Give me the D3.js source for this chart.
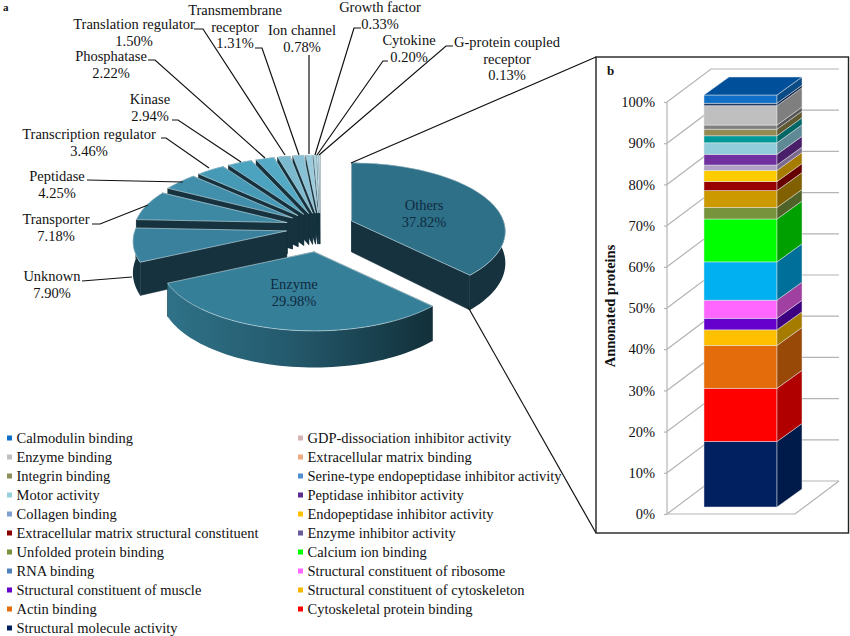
<!DOCTYPE html>
<html>
<head>
<meta charset="utf-8">
<script src="https://cdn.jsdelivr.net/npm/d3@7"></script>
<style>
  body { margin: 0; background: #fff; }
  text { font-family: "Liberation Serif", serif; fill: #111; }
</style>
</head>
<body>
<script>
const width = 850,
  height = 636;

// panel a: pie
const pieNames = ["Others", "Enzyme", "Unknown", "Transporter", "Peptidase", "Transcription regulator", "Kinase", "Phosphatase", "Translation regulator", "Transmembrane receptor", "Ion channel", "Growth factor", "Cytokine", "G-protein coupled receptor"];
const pieValues = [37.82, 29.98, 7.9, 7.18, 4.25, 3.46, 2.94, 2.22, 1.5, 1.31, 0.78, 0.33, 0.2, 0.13];
const pieColors = ["#2e7088", "#367f99", "#39819c", "#3d88a3", "#418fab", "#469ab6", "#4ba3bf", "#54a9c4", "#7bb9cf", "#88c0d5", "#9accdd", "#a8d4e2", "#b9dde8", "#cfe6ee"];

// panel b: stacked bar, bottom to top
const barNames = ["Structural molecule activity", "Cytoskeletal protein binding", "Actin binding", "Structural constituent of cytoskeleton", "Structural constituent of muscle", "Structural constituent of ribosome", "RNA binding", "Calcium ion binding", "Unfolded protein binding", "Enzyme inhibitor activity", "Extracellular matrix structural constituent", "Endopeptidase inhibitor activity", "Collagen binding", "Peptidase inhibitor activity", "Motor activity", "Serine-type endopeptidase inhibitor activity", "Integrin binding", "Extracellular matrix binding", "Enzyme binding", "GDP-dissociation inhibitor activity", "Calmodulin binding"];
const barValues = [15.9, 12.9, 10.4, 3.8, 2.8, 4.4, 9.3, 10.4, 2.8, 4.1, 2.2, 2.7, 1.3, 2.6, 2.8, 1.7, 1.6, 1.0, 4.7, 0.6, 2.0];
const barFront = ["#002060", "#ff0000", "#e46c0a", "#ffc000", "#6600cc", "#ff66ff", "#00b0f0", "#00ff00", "#77933c", "#cc9900", "#990000", "#ffcc00", "#b2a1c7", "#7030a0", "#92cddc", "#009999", "#948a54", "#7f7f7f", "#bfbfbf", "#1f3864", "#0f6fc6"];
const barSide = ["#001a4a", "#b00000", "#984807", "#a57c00", "#3d0080", "#a040a0", "#006f9a", "#00a000", "#4f6228", "#806000", "#660000", "#a67c00", "#7a6a90", "#4a1f6a", "#5f8a95", "#006666", "#5f5830", "#555555", "#7f7f7f", "#10254a", "#0a4a85"];
const ticks = [0, 10, 20, 30, 40, 50, 60, 70, 80, 90, 100];

const legendLeft = ["Calmodulin binding", "Enzyme binding", "Integrin binding", "Motor activity", "Collagen binding", "Extracellular matrix structural constituent", "Unfolded protein binding", "RNA binding", "Structural constituent of muscle", "Actin binding", "Structural molecule activity"];
const legendLeftColors = ["#0f6fc6", "#c0c0c0", "#8e8e5a", "#96d0dc", "#7f9fcf", "#8b0000", "#77933c", "#4f81bd", "#6600cc", "#e46c0a", "#002060"];
const legendRight = ["GDP-dissociation inhibitor activity", "Extracellular matrix binding", "Serine-type endopeptidase inhibitor activity", "Peptidase inhibitor activity", "Endopeptidase inhibitor activity", "Enzyme inhibitor activity", "Calcium ion binding", "Structural constituent of ribosome", "Structural constituent of cytoskeleton", "Cytoskeletal protein binding"];
const legendRightColors = ["#d6b4b4", "#f0a880", "#4f8fd0", "#5b2c91", "#ffc000", "#6a5a9a", "#00ff00", "#ff66ff", "#f5b800", "#ff0000"];

const svg = d3.select("body").append("svg")
  .attr("width", width)
  .attr("height", height);

const defs = svg.append("defs");

const wallGrad = defs.append("linearGradient").attr("id", "enzymeWall");
wallGrad.append("stop").attr("offset", "0%").attr("stop-color", "#2f7288");
wallGrad.append("stop").attr("offset", "45%").attr("stop-color", "#245a6d");
wallGrad.append("stop").attr("offset", "100%").attr("stop-color", "#12303a");

// pie in a tilted plane with a little perspective
const cx = 320, cy = 227, R = 152, RA = 67, persp = 0.153, depth = 31;
const explodeX = 34, explodeY = 18, explodePersp = 0.29;

const pie = d3.pie().sort(null).value(d => d);
const slices = pie(pieValues).map((d, i) => {
  const mid = (d.startAngle + d.endAngle) / 2;
  const v = -Math.cos(mid);
  return {
    ...d,
    name: pieNames[i],
    color: pieColors[i],
    ax: cx + explodeX * Math.sin(mid),
    ay: cy + explodeY * v / (1 - explodePersp * v)
  };
});

function proj(s, a, r, h) {
  const v = -r * Math.cos(a);
  const f = 1 / (1 - persp * v);
  return [s.ax + R * r * Math.sin(a) * f, s.ay + RA * v * f + h * f];
}

function arcPts(s, h) {
  const n = Math.max(2, Math.ceil((s.endAngle - s.startAngle) * 30));
  return d3.range(n + 1).map(i => proj(s, s.startAngle + (s.endAngle - s.startAngle) * i / n, 1, h));
}

const line = d3.line();
const closed = pts => line(pts) + "Z";

const pieG = svg.append("g");
// back to front: small slices first, the big two last
const drawOrder = [13, 12, 11, 10, 9, 8, 7, 6, 5, 4, 3, 2, 0, 1];
drawOrder.forEach(i => {
  const s = slices[i];
  const wall = "#15323e";
  const g = pieG.append("g");
  [s.startAngle, s.endAngle].forEach(a => {
    g.append("path")
      .attr("d", closed([proj(s, a, 0, 0), proj(s, a, 1, 0), proj(s, a, 1, depth), proj(s, a, 0, depth)]))
      .attr("fill", wall)
      .attr("stroke", wall)
      .attr("stroke-width", 0.5);
  });
  g.append("path")
    .attr("d", closed(arcPts(s, 0).concat(arcPts(s, depth).reverse())))
    .attr("fill", i === 1 ? "url(#enzymeWall)" : wall);
  g.append("path")
    .attr("d", closed([proj(s, 0, 0, 0)].concat(arcPts(s, 0))))
    .attr("fill", s.color)
    .attr("stroke", "#cfe3ea")
    .attr("stroke-width", 0.6);
});

// leader lines
const leaders = [
  [[194, 29], [203, 29], [285, 155]],
  [[255, 48], [262, 48], [299, 155]],
  [[309, 55], [309, 154]],
  [[361, 28], [354, 28], [315, 155]],
  [[388, 61], [383, 61], [317, 155]],
  [[453, 46], [446, 46], [319, 155]],
  [[148, 60], [155, 60], [265, 158]],
  [[172, 120], [178, 120], [241, 162]],
  [[161, 138], [166, 138], [209, 168]],
  [[87, 180], [183, 182]],
  [[92, 224], [100, 224], [148, 205]],
  [[82, 281], [132, 277]],
  [[351, 163], [596, 57]],
  [[468, 307], [596, 533]]
];
svg.append("g").selectAll("path").data(leaders).join("path")
  .attr("d", d => line(d))
  .attr("fill", "none")
  .attr("stroke", "#111")
  .attr("stroke-width", 1.2);

// pie labels: name lines, then the value
const pieLabels = [
  { x: 424, y: 205, lines: ["Others", "37.82%"], fill: "#0f2a40" },
  { x: 294, y: 284, lines: ["Enzyme", "29.98%"], fill: "#0f2a40" },
  { x: 52, y: 276, lines: ["Unknown", "7.90%"] },
  { x: 56, y: 219, lines: ["Transporter", "7.18%"] },
  { x: 57, y: 176, lines: ["Peptidase", "4.25%"] },
  { x: 89, y: 134, lines: ["Transcription regulator", "3.46%"] },
  { x: 150, y: 99, lines: ["Kinase", "2.94%"] },
  { x: 111, y: 56, lines: ["Phosphatase", "2.22%"] },
  { x: 134, y: 24, lines: ["Translation regulator", "1.50%"] },
  { x: 235, y: 10, lines: ["Transmembrane", "receptor", "1.31%"] },
  { x: 302, y: 30, lines: ["Ion channel", "0.78%"] },
  { x: 380, y: 7, lines: ["Growth factor", "0.33%"] },
  { x: 409, y: 40, lines: ["Cytokine", "0.20%"] },
  { x: 507, y: 42, lines: ["G-protein coupled", "receptor", "0.13%"] }
];
pieLabels.forEach(l => {
  l.lines.forEach((t, i) => {
    svg.append("text")
      .attr("x", l.x)
      .attr("y", l.y + i * 16.7)
      .attr("dy", "0.35em")
      .attr("text-anchor", "middle")
      .attr("font-size", 14.5)
      .style("fill", l.fill || "#111")
      .text(t);
  });
});

svg.append("text").attr("x", 3).attr("y", 11).attr("font-size", 11).attr("font-weight", "bold").text("a");

// panel b frame
svg.append("rect")
  .attr("x", 596).attr("y", 57)
  .attr("width", 252.5).attr("height", 476)
  .attr("fill", "none")
  .attr("stroke", "#222")
  .attr("stroke-width", 1.4);
svg.append("text").attr("x", 607).attr("y", 75).attr("font-size", 13).attr("font-weight", "bold").text("b");

// 3D column
const y = d3.scaleLinear().domain([0, 100]).range([514, 102]);
const wallX = 667, backDx = 44, backDy = 33, floorW = 128;
const grid = "#b4b4b4";

const gridG = svg.append("g")
  .attr("fill", "none")
  .attr("stroke", grid)
  .attr("stroke-width", 1.2);
ticks.forEach(t => {
  gridG.append("path").attr("d", line([[wallX, y(t)], [wallX + backDx, y(t) - backDy], [wallX + backDx + floorW, y(t) - backDy]]));
});
gridG.append("path").attr("d", line([[wallX, y(0)], [wallX, y(100)]]));
gridG.append("path").attr("d", line([[wallX, y(0)], [wallX + floorW, y(0)], [wallX + floorW + backDx, y(0) - backDy]]));

const axis = d3.axisLeft(y).tickValues(ticks).tickSize(3).tickSizeOuter(0).tickFormat(d => d + "%");
const axisG = svg.append("g").attr("transform", `translate(${wallX},0)`).call(axis);
axisG.select(".domain").remove();
axisG.selectAll(".tick line").attr("stroke", grid).attr("stroke-width", 1.2);
axisG.selectAll("text")
  .attr("font-size", 14.5)
  .attr("font-family", "Liberation Serif")
  .attr("x", -12)
  .style("fill", "#111");

svg.append("text")
  .attr("transform", "translate(615,306) rotate(-90)")
  .attr("text-anchor", "middle")
  .attr("font-size", 14.5)
  .attr("font-weight", "bold")
  .text("Annonated proteins");

const barX = 704, barW = 73, barDx = 25, barDy = 18, barShift = 7;
const stack = d3.cumsum(barValues);
const bars = svg.append("g");
barValues.forEach((v, i) => {
  const lo = y(stack[i] - v) - barShift, hi = y(stack[i]) - barShift;
  bars.append("rect")
    .attr("x", barX).attr("y", hi)
    .attr("width", barW).attr("height", lo - hi)
    .attr("fill", barFront[i])
    .attr("stroke", "#e8e8e8")
    .attr("stroke-opacity", 0.6)
    .attr("stroke-width", 0.8);
  bars.append("path")
    .attr("d", closed([[barX + barW, lo], [barX + barW + barDx, lo - barDy], [barX + barW + barDx, hi - barDy], [barX + barW, hi]]))
    .attr("fill", barSide[i])
    .attr("stroke", "#e8e8e8")
    .attr("stroke-opacity", 0.6)
    .attr("stroke-width", 0.8);
});
const barTop = y(stack[stack.length - 1]) - barShift;
bars.append("path")
  .attr("d", closed([[barX, barTop], [barX + barDx, barTop - barDy], [barX + barW + barDx, barTop - barDy], [barX + barW, barTop]]))
  .attr("fill", "#004f9a")
  .attr("stroke", "#e8e8e8")
  .attr("stroke-opacity", 0.6)
  .attr("stroke-width", 0.8);

// legend
function legend(names, colors, x) {
  const g = svg.append("g");
  names.forEach((n, i) => {
    const yy = 438 + i * 19;
    g.append("rect").attr("x", x).attr("y", yy - 2.5).attr("width", 5).attr("height", 5).attr("fill", colors[i]);
    g.append("text").attr("x", x + 9.5).attr("y", yy).attr("dy", "0.35em").attr("font-size", 14.5).text(n);
  });
}
legend(legendLeft, legendLeftColors, 7);
legend(legendRight, legendRightColors, 298);
</script>
</body>
</html>
